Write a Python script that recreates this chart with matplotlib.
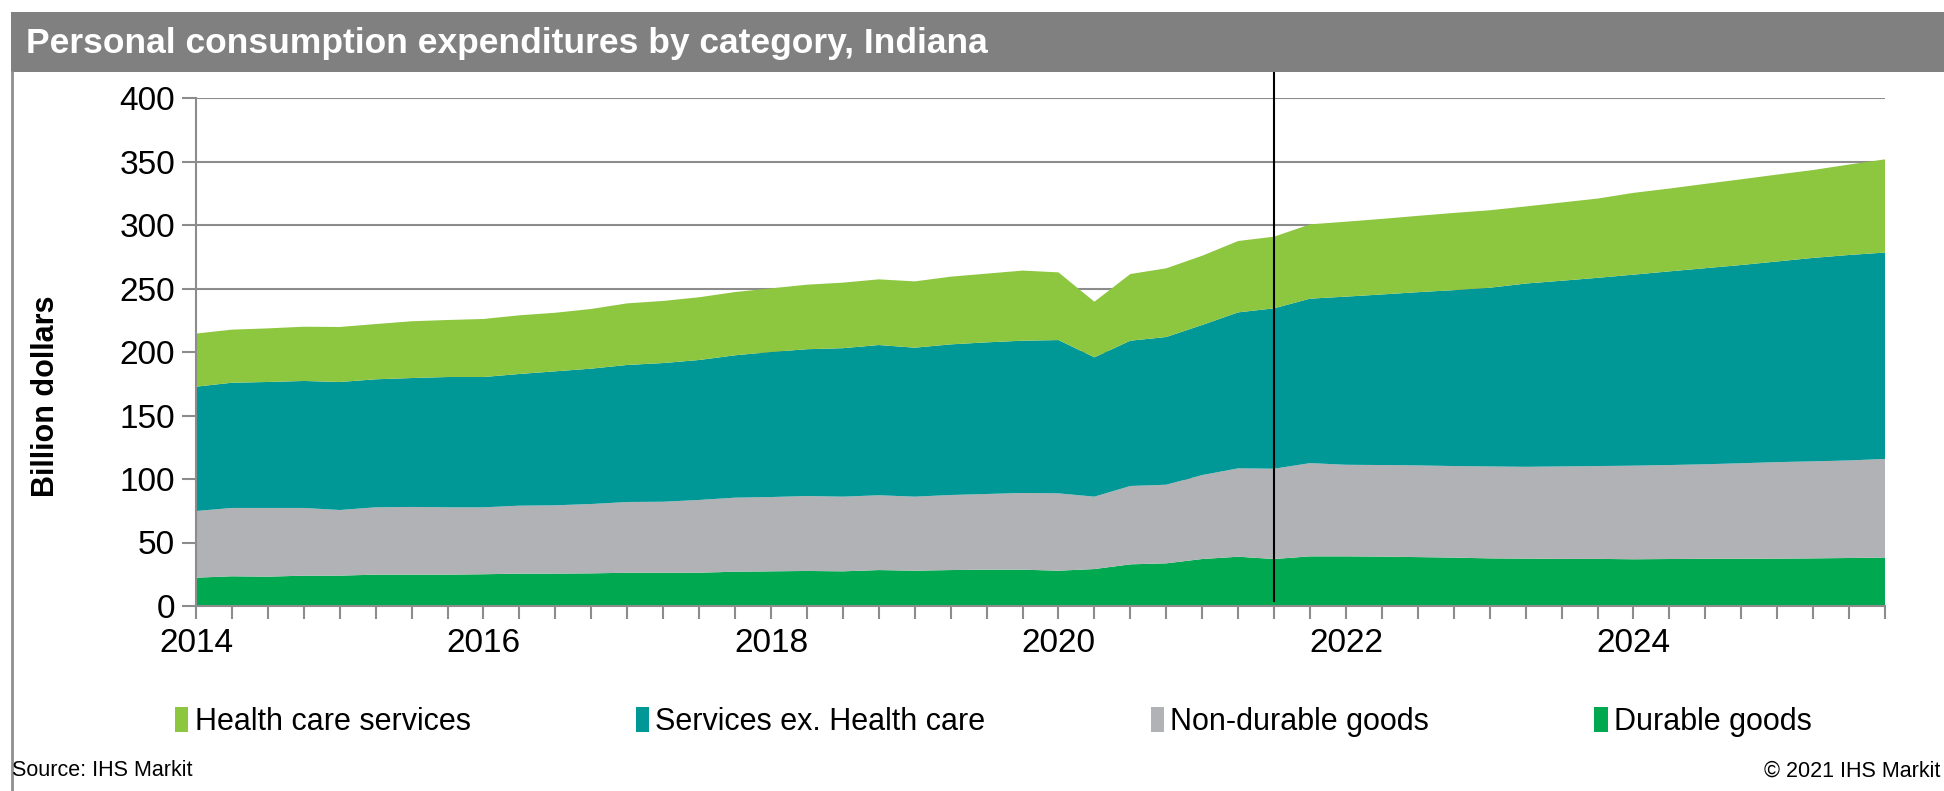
import matplotlib
matplotlib.use("Agg")
import matplotlib.pyplot as plt
from matplotlib.patches import Rectangle
from matplotlib.lines import Line2D
import numpy as np

plt.rcParams['font.family'] = ['Liberation Sans', 'DejaVu Sans']

# ---- data (billion dollars, quarterly 2014Q1 .. 2025Q4) ----
start_year = 2014
n_quarters = 48
forecast_start = 2021.5

durable_goods = [22.3, 23.4, 23.1, 23.9, 23.9, 24.7, 24.7, 24.7, 25.0, 25.5, 25.5, 25.7,
                 26.2, 26.2, 26.2, 27.0, 27.3, 27.6, 27.3, 28.3, 27.8, 28.3, 28.6, 28.6,
                 27.8, 29.1, 32.8, 33.6, 37.0, 38.8, 37.0, 39.1, 39.1, 38.9, 38.5, 38.1,
                 37.5, 37.3, 37.1, 37.1, 36.8, 37.0, 37.2, 37.2, 37.3, 37.5, 37.8, 38.1]
non_durable_goods = [52.5, 53.8, 54.1, 53.3, 51.7, 53.0, 53.3, 53.0, 52.7, 53.5, 53.8, 54.6,
                     55.7, 55.9, 57.3, 58.3, 58.5, 59.0, 58.8, 58.9, 58.3, 59.1, 59.6, 60.4,
                     60.9, 57.0, 61.7, 61.9, 66.1, 69.6, 71.1, 73.4, 72.1, 72.1, 72.2, 72.1,
                     72.4, 72.3, 72.8, 73.1, 73.7, 74.0, 74.4, 75.2, 76.0, 76.4, 76.8, 77.7]
services_ex_health = [97.9, 98.6, 99.2, 100.0, 100.8, 100.8, 101.5, 102.6, 102.6, 103.7, 105.5, 106.6,
                      107.9, 109.2, 110.2, 112.1, 114.2, 115.6, 116.9, 118.3, 117.3, 118.6, 119.4, 119.9,
                      120.7, 109.7, 114.4, 116.3, 118.2, 122.8, 126.3, 129.5, 132.4, 134.3, 136.4, 138.5,
                      140.7, 144.3, 146.2, 148.2, 150.4, 152.5, 154.4, 156.1, 158.0, 160.2, 161.8, 162.5]
health_care = [41.8, 41.8, 42.2, 42.7, 43.3, 43.5, 44.7, 44.9, 45.7, 46.2, 46.1, 47.0,
               48.5, 48.9, 49.4, 49.8, 50.1, 50.8, 51.6, 51.7, 52.2, 53.3, 54.1, 55.2,
               53.3, 43.8, 52.5, 54.1, 54.5, 56.2, 56.4, 58.5, 59.0, 59.5, 60.1, 60.8,
               61.0, 60.7, 61.6, 62.4, 64.4, 65.2, 66.4, 67.5, 68.4, 69.2, 71.2, 73.4]

series_labels = ["Health care services", "Services ex. Health care", "Non-durable goods", "Durable goods"]
colors = {"Health care services": "#8DC63F",
          "Services ex. Health care": "#009797",
          "Non-durable goods": "#B1B2B5",
          "Durable goods": "#00A94F"}

title = "Personal consumption expenditures by category, Indiana"
y_label = "Billion dollars"
year_ticks = [2014, 2016, 2018, 2020, 2022, 2024]
y_ticks = [0, 50, 100, 150, 200, 250, 300, 350, 400]

x = start_year + np.arange(n_quarters) * 0.25

W, H = 1944, 791
fig = plt.figure(figsize=(W / 100, H / 100), dpi=100)

# title band and frame
fig.patches.append(Rectangle((11 / W, 1 - 72 / H), 1 - 11 / W, 60 / H, transform=fig.transFigure,
                             facecolor="#808080", edgecolor="none", zorder=0))
fig.lines.append(Line2D([11.5 / W, 11.5 / W], [0, 1 - 72 / H], transform=fig.transFigure,
                        color="#8f8f8f", lw=2))
fig.text(26 / W, 1 - 43 / H, title, color="white", fontsize=25.5, fontweight="bold",
         va="center", ha="left")

ax = fig.add_axes([196 / W, 1 - 606 / H, (1885 - 196) / W, (606 - 98) / H])
ax.stackplot(x, durable_goods, non_durable_goods, services_ex_health, health_care,
             colors=[colors["Durable goods"], colors["Non-durable goods"],
                     colors["Services ex. Health care"], colors["Health care services"]],
             linewidth=0, zorder=2)

ax.set_xlim(x[0], x[-1])
ax.set_ylim(0, 400)
ax.set_yticks(y_ticks)
ax.set_yticklabels([str(v) for v in y_ticks], fontsize=24)
ax.set_xticks(year_ticks)
ax.set_xticklabels([str(v) for v in year_ticks], fontsize=24)
ax.set_xticks(x, minor=True)
ax.tick_params(axis="x", which="both", direction="out", length=9, width=1.5, color="#8c8c8c", pad=7)
ax.tick_params(axis="y", direction="out", length=10, width=1.5, color="#8c8c8c", pad=5)
for v in y_ticks[1:]:
    ax.axhline(v, color="#8c8c8c", lw=1.5, zorder=1)
for s in ["top", "right"]:
    ax.spines[s].set_visible(False)
for s in ["left", "bottom"]:
    ax.spines[s].set_color("#8c8c8c")
    ax.spines[s].set_linewidth(1.5)
ax.spines["bottom"].set_zorder(5)
ax.set_ylabel(y_label, fontsize=22, fontweight="bold", va="center")
ax.yaxis.set_label_coords(-0.0888, 0.413)

# forecast marker line
ax.axvline(forecast_start, ymin=0.009, ymax=1.051, color="black", lw=1.5, clip_on=False, zorder=6)

# legend
handles = [Rectangle((0, 0), 1, 1, facecolor=colors[l], edgecolor="none") for l in series_labels]
fig.legend(handles, series_labels, loc="center", bbox_to_anchor=(0.511, 1 - 722 / H), ncol=4,
           frameon=False, fontsize=22, handlelength=0.45, handleheight=0.85, handletextpad=0.2,
           columnspacing=5.4)

fig.text(12 / W, 1 - 771 / H, "Source: IHS Markit", fontsize=15.5, ha="left", va="center")
fig.text(1940 / W, 1 - 771 / H, "\u00a9 2021 IHS Markit", fontsize=15.5, ha="right", va="center")

fig.savefig("out.png", dpi=100)
